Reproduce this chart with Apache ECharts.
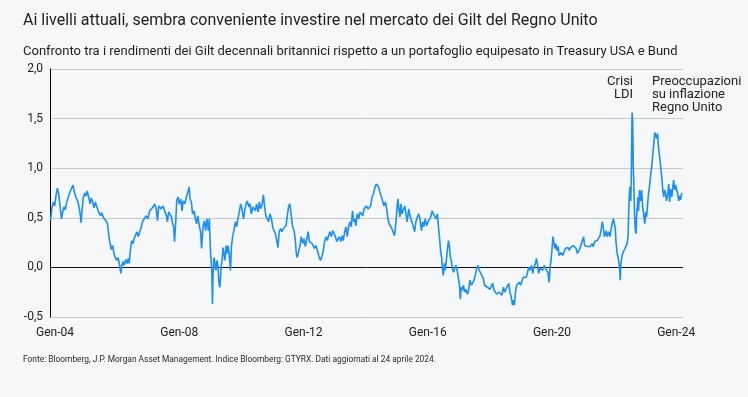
<!DOCTYPE html>
<html>
<head>
<meta charset="utf-8">
<script src="https://cdn.jsdelivr.net/npm/echarts@6/dist/echarts.min.js"></script>
<style>
  html, body { margin: 0; padding: 0; background: #f6f7f9; }
  #pic { width: 748px; height: 397px; }
</style>
</head>
<body>
<div id="pic"></div>
<script>
// spread Gilt 10a vs media Treasury/Bund, [anno, valore]
var gilt0406 = [[2003.86,0.47],[2003.90,0.60],[2003.95,0.66],[2003.99,0.62],[2004.03,0.72],[2004.08,0.80],[2004.12,0.74],[2004.16,0.63],[2004.21,0.49],[2004.25,0.56],[2004.29,0.61],[2004.33,0.58],[2004.38,0.66],[2004.42,0.70],[2004.46,0.74],[2004.51,0.78],[2004.55,0.76],[2004.58,0.83],[2004.61,0.78],[2004.66,0.72],[2004.70,0.70],[2004.74,0.66],[2004.78,0.60],[2004.82,0.52],[2004.84,0.45],[2004.87,0.57],[2004.91,0.70],[2004.96,0.75],[2005.00,0.72],[2005.04,0.77],[2005.09,0.70],[2005.13,0.64],[2005.17,0.70],[2005.21,0.66],[2005.26,0.60],[2005.30,0.66],[2005.34,0.62],[2005.39,0.57],[2005.43,0.55],[2005.47,0.52],[2005.51,0.55],[2005.56,0.50],[2005.60,0.48],[2005.64,0.47],[2005.69,0.44],[2005.72,0.36],[2005.75,0.28],[2005.78,0.24],[2005.81,0.18],[2005.86,0.22],[2005.90,0.14],[2005.94,0.10],[2005.99,0.07],[2006.03,0.10],[2006.07,0.04],[2006.12,-0.06],[2006.15,0.02],[2006.19,0.06],[2006.23,0.02],[2006.28,0.08],[2006.32,0.04],[2006.36,0.09],[2006.39,0.04],[2006.43,0.18],[2006.47,0.27],[2006.51,0.24],[2006.56,0.30],[2006.60,0.33],[2006.64,0.36]];
var gilt0609 = [[2006.68,0.31],[2006.73,0.36],[2006.78,0.41],[2006.83,0.47],[2006.89,0.49],[2006.94,0.52],[2006.99,0.49],[2007.05,0.57],[2007.10,0.56],[2007.16,0.61],[2007.21,0.64],[2007.26,0.59],[2007.30,0.47],[2007.34,0.62],[2007.38,0.61],[2007.42,0.59],[2007.48,0.62],[2007.53,0.57],[2007.59,0.52],[2007.62,0.46],[2007.66,0.56],[2007.70,0.54],[2007.75,0.51],[2007.79,0.44],[2007.82,0.41],[2007.85,0.26],[2007.89,0.47],[2007.92,0.67],[2007.96,0.71],[2008.00,0.64],[2008.05,0.69],[2008.09,0.57],[2008.13,0.67],[2008.18,0.64],[2008.23,0.71],[2008.28,0.76],[2008.32,0.81],[2008.35,0.69],[2008.39,0.66],[2008.43,0.54],[2008.48,0.57],[2008.52,0.49],[2008.56,0.44],[2008.60,0.52],[2008.65,0.41],[2008.69,0.36],[2008.72,0.19],[2008.77,0.41],[2008.81,0.47],[2008.85,0.37],[2008.89,0.49],[2008.94,0.37],[2008.97,0.49],[2008.99,0.31],[2009.01,0.14],[2009.05,-0.03],[2009.07,-0.37],[2009.09,-0.06],[2009.12,0.10],[2009.15,0.05],[2009.18,-0.03],[2009.22,0.07],[2009.25,0.00],[2009.28,-0.16],[2009.31,-0.20],[2009.35,0.00],[2009.38,0.07],[2009.41,0.20],[2009.44,0.14],[2009.47,0.07],[2009.51,0.22],[2009.55,0.14]];
var gilt0912 = [[2009.57,0.22],[2009.61,0.14],[2009.65,-0.03],[2009.68,0.21],[2009.72,0.31],[2009.76,0.37],[2009.81,0.46],[2009.85,0.41],[2009.89,0.49],[2009.94,0.57],[2009.98,0.64],[2010.02,0.59],[2010.07,0.49],[2010.11,0.57],[2010.15,0.64],[2010.19,0.67],[2010.24,0.61],[2010.28,0.64],[2010.32,0.54],[2010.37,0.61],[2010.41,0.62],[2010.45,0.57],[2010.49,0.64],[2010.54,0.56],[2010.58,0.66],[2010.62,0.59],[2010.67,0.64],[2010.71,0.73],[2010.75,0.61],[2010.79,0.52],[2010.84,0.54],[2010.88,0.46],[2010.92,0.54],[2010.97,0.49],[2011.01,0.41],[2011.05,0.37],[2011.10,0.34],[2011.14,0.27],[2011.18,0.20],[2011.22,0.36],[2011.27,0.39],[2011.31,0.36],[2011.35,0.39],[2011.40,0.37],[2011.44,0.42],[2011.48,0.52],[2011.52,0.61],[2011.56,0.64],[2011.59,0.57],[2011.62,0.49],[2011.65,0.41],[2011.70,0.37],[2011.74,0.27],[2011.77,0.14],[2011.80,0.10],[2011.85,0.17],[2011.89,0.22],[2011.93,0.31],[2011.98,0.24],[2012.02,0.29],[2012.06,0.21],[2012.10,0.27],[2012.15,0.36],[2012.19,0.26],[2012.23,0.27],[2012.28,0.24],[2012.32,0.26],[2012.36,0.19],[2012.40,0.22],[2012.45,0.17]];
var gilt1215 = [[2012.51,0.10],[2012.55,0.07],[2012.60,0.12],[2012.64,0.17],[2012.68,0.26],[2012.73,0.31],[2012.77,0.27],[2012.81,0.32],[2012.85,0.36],[2012.90,0.31],[2012.94,0.37],[2012.98,0.39],[2013.03,0.31],[2013.07,0.26],[2013.11,0.27],[2013.15,0.31],[2013.20,0.26],[2013.24,0.32],[2013.28,0.27],[2013.33,0.36],[2013.37,0.41],[2013.41,0.31],[2013.46,0.42],[2013.50,0.46],[2013.54,0.41],[2013.58,0.57],[2013.62,0.46],[2013.65,0.49],[2013.69,0.42],[2013.73,0.54],[2013.78,0.49],[2013.82,0.56],[2013.86,0.57],[2013.91,0.52],[2013.95,0.59],[2013.99,0.57],[2014.03,0.62],[2014.08,0.59],[2014.12,0.61],[2014.16,0.62],[2014.21,0.71],[2014.25,0.74],[2014.29,0.79],[2014.34,0.84],[2014.38,0.83],[2014.42,0.81],[2014.46,0.76],[2014.51,0.71],[2014.55,0.67],[2014.59,0.62],[2014.64,0.66],[2014.68,0.59],[2014.72,0.49],[2014.76,0.44],[2014.81,0.46],[2014.85,0.39],[2014.89,0.41],[2014.93,0.32],[2014.96,0.39],[2015.00,0.54],[2015.04,0.69],[2015.08,0.57],[2015.11,0.51],[2015.14,0.64],[2015.17,0.54],[2015.22,0.56],[2015.26,0.62],[2015.30,0.54],[2015.34,0.46],[2015.39,0.59],[2015.43,0.52]];
var gilt1518 = [[2015.45,0.51],[2015.49,0.46],[2015.54,0.41],[2015.58,0.36],[2015.62,0.46],[2015.67,0.51],[2015.71,0.54],[2015.75,0.49],[2015.80,0.37],[2015.84,0.46],[2015.88,0.41],[2015.92,0.49],[2015.97,0.42],[2016.01,0.46],[2016.05,0.47],[2016.10,0.51],[2016.14,0.57],[2016.18,0.59],[2016.22,0.52],[2016.27,0.49],[2016.31,0.54],[2016.34,0.44],[2016.36,0.36],[2016.39,0.27],[2016.42,0.15],[2016.45,0.10],[2016.48,-0.03],[2016.50,-0.08],[2016.54,0.04],[2016.57,-0.03],[2016.60,0.07],[2016.63,0.17],[2016.67,0.27],[2016.70,0.21],[2016.73,0.10],[2016.76,0.07],[2016.79,0.00],[2016.83,-0.05],[2016.87,-0.01],[2016.91,0.02],[2016.95,-0.03],[2017.00,-0.13],[2017.03,-0.20],[2017.05,-0.32],[2017.08,-0.20],[2017.12,-0.23],[2017.15,-0.18],[2017.19,-0.25],[2017.23,-0.22],[2017.28,-0.27],[2017.32,-0.23],[2017.36,-0.13],[2017.41,-0.18],[2017.45,-0.20],[2017.49,-0.13],[2017.53,-0.08],[2017.58,-0.01],[2017.62,0.02],[2017.66,-0.03],[2017.71,-0.06],[2017.75,-0.08],[2017.79,-0.11],[2017.83,-0.18],[2017.88,-0.16],[2017.92,-0.20],[2017.96,-0.18],[2018.01,-0.22],[2018.05,-0.20],[2018.09,-0.16],[2018.14,-0.23],[2018.18,-0.22],[2018.22,-0.27],[2018.26,-0.25]];
var gilt1821 = [[2018.31,-0.25],[2018.35,-0.23],[2018.39,-0.28],[2018.44,-0.20],[2018.48,-0.25],[2018.52,-0.22],[2018.56,-0.20],[2018.61,-0.16],[2018.65,-0.25],[2018.69,-0.30],[2018.73,-0.38],[2018.76,-0.33],[2018.79,-0.38],[2018.82,-0.27],[2018.86,-0.18],[2018.91,-0.20],[2018.95,-0.15],[2018.99,-0.18],[2019.04,-0.13],[2019.08,-0.10],[2019.12,-0.08],[2019.17,-0.10],[2019.21,-0.06],[2019.25,0.00],[2019.29,-0.03],[2019.34,0.02],[2019.38,-0.06],[2019.42,0.00],[2019.47,0.04],[2019.50,0.09],[2019.53,0.04],[2019.57,-0.06],[2019.62,-0.01],[2019.66,0.00],[2019.70,-0.03],[2019.75,0.02],[2019.79,-0.01],[2019.83,0.00],[2019.87,-0.05],[2019.91,-0.15],[2019.94,0.00],[2019.97,0.07],[2020.00,0.17],[2020.03,0.31],[2020.07,0.24],[2020.10,0.19],[2020.13,0.24],[2020.16,0.17],[2020.20,0.21],[2020.23,0.12],[2020.26,0.10],[2020.30,0.15],[2020.35,0.12],[2020.39,0.14],[2020.43,0.19],[2020.47,0.17],[2020.52,0.20],[2020.56,0.17],[2020.60,0.20],[2020.65,0.18],[2020.69,0.22],[2020.73,0.21],[2020.78,0.19],[2020.82,0.14],[2020.86,0.13],[2020.90,0.19],[2020.95,0.24],[2020.99,0.28],[2021.02,0.31],[2021.05,0.22],[2021.10,0.20],[2021.14,0.21],[2021.18,0.19],[2021.23,0.21]];
var gilt2124 = [[2021.25,0.19],[2021.29,0.24],[2021.33,0.21],[2021.38,0.26],[2021.42,0.24],[2021.46,0.27],[2021.50,0.26],[2021.55,0.32],[2021.59,0.39],[2021.62,0.46],[2021.65,0.41],[2021.69,0.31],[2021.72,0.32],[2021.75,0.37],[2021.78,0.31],[2021.83,0.36],[2021.87,0.31],[2021.91,0.39],[2021.94,0.44],[2021.98,0.49],[2022.01,0.44],[2022.04,0.39],[2022.06,0.27],[2022.10,0.14],[2022.13,0.10],[2022.16,0.04],[2022.18,0.00],[2022.20,-0.13],[2022.22,0.04],[2022.26,0.12],[2022.29,0.15],[2022.32,0.14],[2022.35,0.19],[2022.38,0.21],[2022.42,0.24],[2022.45,0.31],[2022.47,0.54],[2022.49,0.71],[2022.51,0.81],[2022.54,0.67],[2022.56,1.01],[2022.58,1.56],[2022.60,1.48],[2022.62,1.01],[2022.64,0.81],[2022.66,0.54],[2022.68,0.39],[2022.71,0.34],[2022.73,0.54],[2022.75,0.61],[2022.77,0.71],[2022.79,0.57],[2022.82,0.78],[2022.86,0.67],[2022.89,0.78],[2022.92,0.61],[2022.95,0.54],[2022.99,0.44],[2023.02,0.56],[2023.05,0.51],[2023.08,0.64],[2023.11,0.74],[2023.15,0.84],[2023.18,0.94],[2023.21,1.01],[2023.24,1.11],[2023.28,1.25],[2023.31,1.36],[2023.34,1.38],[2023.37,1.30],[2023.40,1.35],[2023.44,1.18],[2023.47,1.11],[2023.50,1.09],[2023.53,0.93],[2023.57,0.78],[2023.60,0.71],[2023.63,0.78],[2023.66,0.74],[2023.69,0.67],[2023.73,0.74],[2023.76,0.84],[2023.79,0.66],[2023.82,0.79],[2023.86,0.71],[2023.89,0.81],[2023.92,0.88],[2023.95,0.78],[2023.98,0.83],[2024.02,0.78],[2024.05,0.74],[2024.08,0.67],[2024.11,0.72],[2024.14,0.68],[2024.18,0.75]];

var yearTicks = [2004, 2008, 2012, 2016, 2020, 2024];
var yTicks = [-0.5, 0, 0.5, 1, 1.5, 2];

var titolo = 'Ai livelli attuali, sembra conveniente investire nel mercato dei Gilt del Regno Unito';
var sottotitolo = 'Confronto tra i rendimenti dei Gilt decennali britannici rispetto a un portafoglio equipesato in Treasury USA e Bund';
var fonte = 'Fonte: Bloomberg, J.P. Morgan Asset Management. Indice Bloomberg: GTYRX. Dati aggiornati al 24 aprile 2024.';

var serie = [].concat(gilt0406, gilt0609, gilt0912, gilt1215, gilt1518, gilt1821, gilt2124);
var font = 'Roboto, "Liberation Sans", sans-serif';

var myChart = echarts.init(document.getElementById('pic'), null, { renderer: 'canvas' });
var option = {
    backgroundColor: '#f6f7f9',
    animation: false,
    textStyle: { fontFamily: font },
    title: [{
        text: titolo,
        left: 18, top: 8,
        textStyle: { fontSize: 16, fontWeight: 'normal', color: '#1e1e1e', fontFamily: font }
    }, {
        text: sottotitolo,
        left: 18, top: 40,
        textStyle: { fontSize: 13, fontWeight: 'normal', color: '#1e1e1e', fontFamily: font }
    }, {
        text: fonte,
        left: 18, top: 351,
        textStyle: { fontSize: 8.4, fontWeight: 'normal', color: '#2a2a2a', fontFamily: font }
    }],
    grid: { left: 50, right: 65, top: 69, bottom: 80 },
    xAxis: {
        type: 'value',
        min: 2003.84,
        max: 2024.22,
        splitLine: { show: false },
        axisLine: { show: false },
        axisTick: { show: false },
        axisLabel: {
            customValues: yearTicks,
            margin: 10,
            fontSize: 12,
            color: '#222',
            formatter: function (v) { return 'Gen-' + String(Math.round(v)).slice(2); }
        }
    },
    yAxis: {
        type: 'value',
        min: yTicks[0],
        max: yTicks[yTicks.length - 1],
        interval: 0.5,
        axisLine: { show: true, lineStyle: { color: '#000', width: 1 } },
        axisTick: { show: false },
        axisLabel: {
            margin: 7,
            fontSize: 12,
            color: '#222',
            formatter: function (v) { return v.toFixed(1).replace('.', ','); }
        },
        splitLine: {
            show: true,
            lineStyle: { color: ['#c8c8c8', '#111', '#c8c8c8', '#c8c8c8', '#c8c8c8', '#c8c8c8'], width: 1 }
        }
    },
    series: [{
        type: 'line',
        data: serie,
        showSymbol: false,
        symbol: 'none',
        lineStyle: { color: '#1a8ff5', width: 1.6 },
        z: 3
    }],
    graphic: [{
        type: 'text', x: 633, y: 75,
        style: { text: 'Crisi\nLDI', fill: '#222', font: '13px ' + font, align: 'right', verticalAlign: 'top', lineHeight: 13 }
    }, {
        type: 'text', x: 652, y: 75,
        style: { text: 'Preoccupazioni\nsu inflazione\nRegno Unito', fill: '#222', font: '13px ' + font, align: 'left', verticalAlign: 'top', lineHeight: 13 }
    }]
};
myChart.setOption(option);
</script>
</body>
</html>
